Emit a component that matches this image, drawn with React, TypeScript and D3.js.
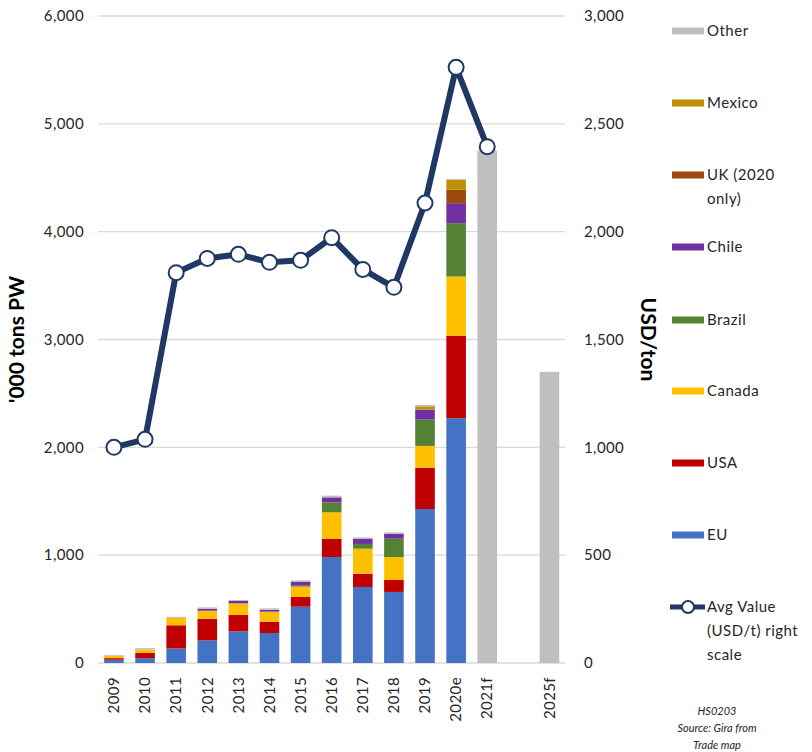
import React from "react";
import * as d3 from "d3";

const categories = ["2009", "2010", "2011", "2012", "2013", "2014", "2015", "2016", "2017", "2018", "2019", "2020e", "2021f", "gap", "2025f"];
const eu = [30, 45, 135, 210, 293, 278, 522, 983, 705, 659, 1428, 2270, 0, 0, 0];
const usa = [15, 48, 215, 200, 152, 105, 90, 167, 123, 111, 383, 766, 0, 0, 0];
const canada = [20, 30, 68, 75, 108, 93, 96, 247, 232, 213, 202, 548, 0, 0, 0];
const brazil = [0, 0, 0, 0, 0, 0, 9, 92, 44, 170, 244, 495, 0, 0, 0];
const chile = [0, 0, 0, 18, 22, 18, 34, 47, 46, 44, 93, 185, 0, 0, 0];
const uk = [0, 0, 0, 0, 0, 0, 0, 0, 0, 0, 0, 124, 0, 0, 0];
const mexico = [0, 0, 0, 0, 0, 0, 0, 0, 0, 0, 30, 93, 0, 0, 0];
const other = [7, 15, 10, 13, 9, 13, 15, 16, 15, 14, 13, 9, 4750, 0, 2700];
const avgValue = [1000, 1037, 1810, 1876, 1895, 1858, 1867, 1972, 1825, 1742, 2133, 2762, 2394, null, null];

const leftTicks = [0, 1000, 2000, 3000, 4000, 5000, 6000];
const rightTicks = [0, 500, 1000, 1500, 2000, 2500, 3000];

const seriesNames = ["EU", "USA", "Canada", "Brazil", "Chile", "UK", "Mexico", "Other"];
const seriesColors = ["#4472C4", "#C00000", "#FFC000", "#548235", "#7030A0", "#9E480E", "#BF9000", "#BFBFBF"];
const seriesData = [eu, usa, canada, brazil, chile, uk, mexico, other];

const legendItems = [
  { key: "Other", lines: ["Other"] },
  { key: "Mexico", lines: ["Mexico"] },
  { key: "UK", lines: ["UK (2020", "only)"] },
  { key: "Chile", lines: ["Chile"] },
  { key: "Brazil", lines: ["Brazil"] },
  { key: "Canada", lines: ["Canada"] },
  { key: "USA", lines: ["USA"] },
  { key: "EU", lines: ["EU"] },
  { key: "Avg", lines: ["Avg Value", "(USD/t) right", "scale"] },
];

const FONT = "Lato, 'Open Sans', sans-serif";
const NAVY = "#1F3864";

export default function App() {
  const W = 812, H = 752;
  const x0 = 98.4, x1 = 565, yTop = 16, yBot = 663;

  const x = d3.scaleBand<string>().domain(categories).range([x0, x1]).paddingInner(0.37).paddingOuter(0.185);
  const yL = d3.scaleLinear().domain([0, 6000]).range([yBot, yTop]);
  const yR = d3.scaleLinear().domain([0, 3000]).range([yBot, yTop]);

  const table = categories.map((c, i) => {
    const row: any = { cat: c };
    seriesNames.forEach((s, j) => (row[s] = seriesData[j][i]));
    return row;
  });
  const stacked = d3.stack<any>().keys(seriesNames)(table);

  const linePts = categories
    .map((c, i) => ({ c, v: avgValue[i] }))
    .filter((d) => d.v != null) as { c: string; v: number }[];
  const lineGen = d3
    .line<{ c: string; v: number }>()
    .x((d) => (x(d.c) as number) + x.bandwidth() / 2)
    .y((d) => yR(d.v));

  const legendY = [31, 103, 175, 247, 320, 391, 463, 535, 607];

  return (
    <svg width={W} height={H} style={{ position: "absolute", left: 0, top: 0, background: "#fff" }} fontFamily={FONT}>
      {leftTicks.map((t) => (
        <line key={t} x1={x0} x2={x1} y1={yL(t)} y2={yL(t)} stroke="#D9D9D9" strokeWidth={1.3} />
      ))}
      {leftTicks.map((t) => (
        <text key={"l" + t} x={84} y={yL(t)} dy="0.35em" textAnchor="end" fontSize={15} fill="#262626" letterSpacing={0.4}>
          {d3.format(",")(t)}
        </text>
      ))}
      {rightTicks.map((t) => (
        <text key={"r" + t} x={584} y={yR(t)} dy="0.35em" textAnchor="start" fontSize={15} fill="#262626" letterSpacing={0.4}>
          {d3.format(",")(t)}
        </text>
      ))}
      <text transform={`translate(24,${(yTop + yBot) / 2}) rotate(-90)`} textAnchor="middle" fontSize={21} fontWeight="bold" fill="#000">
        '000 tons PW
      </text>
      <text transform={`translate(641,${(yTop + yBot) / 2}) rotate(90)`} textAnchor="middle" fontSize={21} fontWeight="bold" fill="#000">
        USD/ton
      </text>
      {stacked.map((layer, j) => (
        <g key={layer.key} fill={seriesColors[j]}>
          {layer.map((d, i) =>
            d[1] - d[0] > 0 ? (
              <rect
                key={i}
                x={x(categories[i]) as number}
                width={x.bandwidth()}
                y={yL(d[1])}
                height={yL(d[0]) - yL(d[1])}
              />
            ) : null
          )}
        </g>
      ))}
      {categories.map((c) =>
        c === "gap" ? null : (
          <text
            key={"x" + c}
            transform={`translate(${(x(c) as number) + x.bandwidth() / 2},677) rotate(-90)`}
            textAnchor="end"
            dy="0.35em"
            fontSize={15}
            fill="#262626"
            letterSpacing={0.4}
          >
            {c}
          </text>
        )
      )}
      <path d={lineGen(linePts) || ""} fill="none" stroke={NAVY} strokeWidth={6} strokeLinejoin="round" />
      {linePts.map((d) => (
        <circle
          key={"m" + d.c}
          cx={(x(d.c) as number) + x.bandwidth() / 2}
          cy={yR(d.v)}
          r={7.5}
          fill="#fff"
          stroke={NAVY}
          strokeWidth={2}
        />
      ))}
      {legendItems.map((it, k) => {
        const y = legendY[k];
        const idx = seriesNames.indexOf(it.key);
        return (
          <g key={it.key}>
            {it.key === "Avg" ? (
              <g>
                <line x1={670} x2={705} y1={y} y2={y} stroke={NAVY} strokeWidth={5} />
                <circle cx={688} cy={y} r={6} fill="#fff" stroke={NAVY} strokeWidth={2} />
              </g>
            ) : (
              <rect x={672} y={y - 3.5} width={32} height={7} fill={seriesColors[idx]} />
            )}
            {it.lines.map((ln, m) => (
              <text key={m} x={707} y={y + m * 24} dy="0.35em" fontSize={15} fill="#262626" letterSpacing={0.5}>
                {ln}
              </text>
            ))}
          </g>
        );
      })}
      {["HS0203", "Source: Gira from", "Trade map"].map((t, i) => (
        <text key={t} x={717} y={711 + i * 17} dy="0.35em" textAnchor="middle" fontSize={11} fontStyle="italic" fill="#262626">
          {t}
        </text>
      ))}
    </svg>
  );
}
